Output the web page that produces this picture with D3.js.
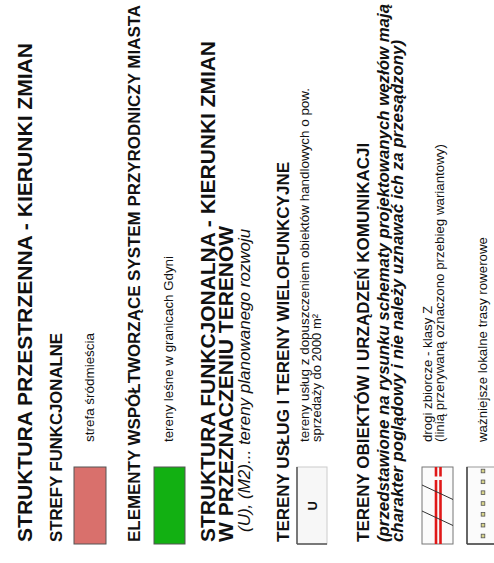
<!DOCTYPE html>
<html><head><meta charset="utf-8">
<script src="https://cdn.jsdelivr.net/npm/d3@7"></script>
<style>html,body{margin:0;padding:0;background:#fff;overflow:hidden}</style>
</head><body>
<script>
// ---- content ----
const headings = ["STRUKTURA PRZESTRZENNA - KIERUNKI ZMIAN",
                  "STRUKTURA FUNKCJONALNA - KIERUNKI ZMIAN",
                  "W PRZEZNACZENIU TERENÓW"];
const subheadings = ["STREFY FUNKCJONALNE",
                     "ELEMENTY WSPÓŁTWORZĄCE SYSTEM PRZYRODNICZY MIASTA",
                     "TERENY USŁUG I TERENY WIELOFUNKCYJNE",
                     "TERENY OBIEKTÓW I URZĄDZEŃ KOMUNIKACJI"];
const notes = ["(U), (M2)... tereny planowanego rozwoju",
               "(przedstawione na rysunku schematy projektowanych węzłów mają",
               "charakter poglądowy i nie należy uznawać ich za przesądzony)"];
const itemLabels = [["strefa śródmieścia"],
                    ["tereny leśne w granicach Gdyni"],
                    ["tereny usług z dopuszczeniem obiektów handlowych o pow.", "sprzedaży do 2000 m²"],
                    ["drogi zbiorcze - klasy Z", "(linią przerywaną oznaczono przebieg wariantowy)"],
                    ["ważniejsze lokalne trasy rowerowe"]];
const itemSymbols = ["fill", "fill", "U", "road", "bike"];
const itemColors = ["#d9706c", "#12b012", "#f7f7f7", "#fbfbfb", "#fbfbfb"];
const bikeStops = [0, 1, 2, 3, 4, 5, 6];
const roadCrossings = [0, 1];

// ---- layout (unrotated frame: u along text, v across) ----
const W = 494, H = 563;
const FONT = "'Liberation Sans', Arial, Helvetica, sans-serif";
const svg = d3.select("body").append("svg").attr("width", W).attr("height", H);
const g = svg.append("g").attr("transform", `translate(0,${H}) rotate(-90)`);

function txt(s, u, v, size, weight, style, len) {
  const t = g.append("text").attr("x", u).attr("y", v)
    .attr("font-family", FONT).attr("font-size", size)
    .attr("font-weight", weight).attr("font-style", style || "normal")
    .attr("fill", "#111").text(s);
  if (len) t.attr("textLength", len).attr("lengthAdjust", "spacingAndGlyphs");
  return t;
}

// headings
txt(headings[0], 21, 32, 21, "bold", null, 499);
txt(headings[1], 21, 215, 21, "bold", null, 501);
txt(headings[2], 21, 233, 21, "bold");
// subheadings
txt(subheadings[0], 21, 62, 17, "bold", null, 209);
txt(subheadings[1], 21, 140, 17, "bold", null, 537);
txt(subheadings[2], 21, 289, 17, "bold");
txt(subheadings[3], 21, 369, 17, "bold");
// notes
txt(notes[0], 31, 250, 17, "normal", "italic");
txt(notes[1], 21, 389, 17, "bold", "italic", 538);
txt(notes[2], 21, 403, 17, "bold", "italic", 502);

// items
const itemV = [[94], [173], [309, 321], [432, 444], [487]];
const itemLen = [[109], [186], [354, 128], [136, null], [205]];
const boxV = [[74, 106], [154, 185], [297, 327], [422, 453], [467, 502]];
const su = d3.scaleLinear().domain([0, 1]).range([19, 96]); // box extent along u

itemLabels.forEach((lines, i) => {
  lines.forEach((s, j) => txt(s, 121, itemV[i][j], 13.3, "normal", null, itemLen[i][j]));
  const [v0, v1] = boxV[i];
  const sym = itemSymbols[i];
  const bx = g.append("g");
  if (sym === "fill") {
    bx.append("rect").attr("x", su(0)).attr("y", v0).attr("width", su(1) - su(0)).attr("height", v1 - v0)
      .attr("fill", itemColors[i]).attr("stroke", "#555").attr("stroke-width", 1);
  } else if (sym === "U") {
    bx.append("rect").attr("x", su(0)).attr("y", v0).attr("width", su(1) - su(0)).attr("height", v1 - v0)
      .attr("fill", itemColors[i]).attr("stroke", "#ccc").attr("stroke-width", 1);
    bx.append("line").attr("x1", su(0)).attr("x2", su(1)).attr("y1", v0).attr("y2", v0).attr("stroke", "#555").attr("stroke-width", 1.5);
    bx.append("line").attr("x1", su(0)).attr("x2", su(0)).attr("y1", v0).attr("y2", v1).attr("stroke", "#555").attr("stroke-width", 1.5);
    txt("U", (su(0) + su(1)) / 2 - 5, (v0 + v1) / 2 + 5, 13, "bold");
  } else if (sym === "road") {
    bx.append("rect").attr("x", su(0)).attr("y", v0).attr("width", su(1) - su(0)).attr("height", v1 - v0)
      .attr("fill", itemColors[i]).attr("stroke", "#777").attr("stroke-width", 1);
    [436, 440.5].forEach(rv => {
      bx.append("line").attr("x1", su(0)).attr("x2", 83).attr("y1", rv).attr("y2", rv)
        .attr("stroke", "#e01818").attr("stroke-width", 2.6);
      bx.append("line").attr("x1", 86.5).attr("x2", su(1)).attr("y1", rv).attr("y2", rv)
        .attr("stroke", "#e01818").attr("stroke-width", 2.6);
    });
    roadCrossings.forEach(k => {
      const a = k === 0 ? 78 : 52;
      bx.append("line").attr("x1", a).attr("y1", v0).attr("x2", a - 14.5).attr("y2", v1)
        .attr("stroke", "#333").attr("stroke-width", 1);
    });
  } else if (sym === "bike") {
    bx.append("rect").attr("x", su(0)).attr("y", v0).attr("width", su(1) - su(0)).attr("height", v1 - v0)
      .attr("fill", itemColors[i]).attr("stroke", "#999").attr("stroke-width", 1);
    bx.append("line").attr("x1", su(0)).attr("x2", su(1)).attr("y1", v0).attr("y2", v0).attr("stroke", "#444").attr("stroke-width", 1.5);
    bx.append("line").attr("x1", su(0)).attr("x2", su(0)).attr("y1", v0).attr("y2", v1).attr("stroke", "#444").attr("stroke-width", 1.5);
    const sb = d3.scaleLinear().domain([0, bikeStops.length - 1]).range([27, 92]);
    bx.selectAll("rect.stop").data(bikeStops).join("rect").attr("class", "stop")
      .attr("x", d => sb(d) - 1.8).attr("y", 483 - 1.8).attr("width", 3.6).attr("height", 3.6)
      .attr("fill", "#d8d48a").attr("stroke", "#555").attr("stroke-width", 0.8);
  }
});
</script>
</body></html>
